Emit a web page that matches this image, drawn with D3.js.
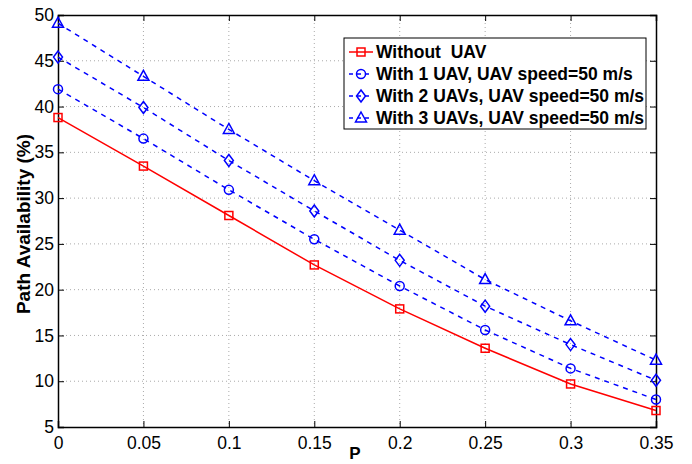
<!DOCTYPE html>
<html lang="en">
<head>
    <meta charset="utf-8">
    <title>Path Availability</title>
    <script src="https://d3js.org/d3.v7.min.js"></script>
    <style>
        body { margin: 0; background: #fff; }
        text { font-family: "Liberation Sans", Arial, sans-serif; }
    </style>
</head>
<body>
<div id="chart"></div>
<script>
    // Data
    const pValues = [0, 0.05, 0.1, 0.15, 0.2, 0.25, 0.3, 0.35];
    const withoutUav = [38.8, 33.5, 28.1, 22.7, 17.9, 13.6, 9.7, 6.8];
    const oneUav = [41.9, 36.5, 30.9, 25.5, 20.4, 15.6, 11.4, 8.0];
    const twoUavs = [45.4, 39.9, 34.1, 28.6, 23.2, 18.2, 14.0, 10.1];
    const threeUavs = [49.1, 43.3, 37.5, 31.9, 26.5, 21.1, 16.6, 12.3];
    const xTicks = [0, 0.05, 0.1, 0.15, 0.2, 0.25, 0.3, 0.35];
    const yTicks = [5, 10, 15, 20, 25, 30, 35, 40, 45, 50];
    const seriesNames = ["Without  UAV", "With 1 UAV, UAV speed=50 m/s",
        "With 2 UAVs, UAV speed=50 m/s", "With 3 UAVs, UAV speed=50 m/s"];

    const series = [
        {name: seriesNames[0], values: withoutUav, color: "#ff0000", dash: null, marker: "square"},
        {name: seriesNames[1], values: oneUav, color: "#0000ff", dash: "5,5", marker: "circle"},
        {name: seriesNames[2], values: twoUavs, color: "#0000ff", dash: "5,5", marker: "diamond"},
        {name: seriesNames[3], values: threeUavs, color: "#0000ff", dash: "5,5", marker: "triangle"}
    ];

    const W = 692, H = 464;
    const margin = {top: 15, right: 36, bottom: 37, left: 58},
        width = W - margin.left - margin.right,
        height = H - margin.top - margin.bottom;

    const svg = d3.select("#chart").append("svg")
        .attr("width", W).attr("height", H);
    const g = svg.append("g")
        .attr("transform", `translate(${margin.left},${margin.top})`);

    const x = d3.scaleLinear().domain([0, 0.35]).range([0, width]);
    const y = d3.scaleLinear().domain([5, 50]).range([height, 0]);

    // grid
    g.append("g").selectAll("line").data(xTicks.slice(1, -1)).join("line")
        .attr("x1", d => x(d)).attr("x2", d => x(d))
        .attr("y1", 0).attr("y2", height)
        .attr("stroke", "#aaa").attr("stroke-width", 1).attr("stroke-dasharray", "1,3");
    g.append("g").selectAll("line").data(yTicks.slice(1, -1)).join("line")
        .attr("y1", d => y(d)).attr("y2", d => y(d))
        .attr("x1", 0).attr("x2", width)
        .attr("stroke", "#aaa").attr("stroke-width", 1).attr("stroke-dasharray", "1,3");

    // axes with inner ticks
    const xAxis = g.append("g").attr("transform", `translate(0,${height})`)
        .call(d3.axisBottom(x).tickValues(xTicks).tickSize(-6).tickPadding(10)
            .tickFormat(d => String(+d.toFixed(2))));
    const yAxis = g.append("g")
        .call(d3.axisLeft(y).tickValues(yTicks).tickSize(-6).tickPadding(4));
    g.append("g").attr("transform", `translate(0,0)`)
        .call(d3.axisTop(x).tickValues(xTicks).tickSize(-6).tickFormat(""));
    g.append("g").attr("transform", `translate(${width},0)`)
        .call(d3.axisRight(y).tickValues(yTicks).tickSize(-6).tickFormat(""));
    g.selectAll(".domain").attr("stroke", "#000").attr("stroke-width", 1.5);
    g.selectAll(".tick line").attr("stroke", "#000");
    [xAxis, yAxis].forEach(a => a.selectAll("text")
        .attr("font-size", 17.5).attr("fill", "#000")
        .style("font-family", "'Liberation Sans', Arial, sans-serif"));

    // axis labels
    svg.append("text").attr("x", 355).attr("y", 459)
        .attr("text-anchor", "middle").attr("font-size", 17).attr("font-weight", "bold").text("P");
    svg.append("text")
        .attr("transform", `translate(30,${margin.top + height / 2 + 3}) rotate(-90)`)
        .attr("text-anchor", "middle").attr("font-size", 19).attr("font-weight", "bold")
        .text("Path Availability (%)");

    function drawMarker(sel, type, color) {
        if (type === "square") {
            sel.append("rect").attr("x", -4).attr("y", -4).attr("width", 8).attr("height", 8);
        } else if (type === "circle") {
            sel.append("circle").attr("r", 4.5);
        } else if (type === "diamond") {
            sel.append("path").attr("d", "M0,-6L4.5,0L0,6L-4.5,0Z");
        } else {
            sel.append("path").attr("d", "M0,-6L5.5,4L-5.5,4Z");
        }
        sel.selectAll("*").attr("fill", "none").attr("stroke", color).attr("stroke-width", 1.5);
    }

    const line = d3.line().x((d, i) => x(pValues[i])).y(d => y(d));
    series.forEach(s => {
        g.append("path").datum(s.values).attr("d", line)
            .attr("fill", "none").attr("stroke", s.color).attr("stroke-width", 1.5)
            .attr("stroke-dasharray", s.dash);
        g.append("g").selectAll("g").data(s.values).join("g")
            .attr("transform", (d, i) => `translate(${x(pValues[i])},${y(d)})`)
            .each(function () { drawMarker(d3.select(this), s.marker, s.color); });
    });

    // legend
    const lg = svg.append("g").attr("transform", "translate(344,38)");
    lg.append("rect").attr("width", 302).attr("height", 91)
        .attr("fill", "#fff").attr("stroke", "#000").attr("stroke-width", 1);
    series.forEach((s, i) => {
        const row = lg.append("g").attr("transform", `translate(0,${14 + i * 22})`);
        row.append("line").attr("x1", 5).attr("x2", 29).attr("y1", 0).attr("y2", 0)
            .attr("stroke", s.color).attr("stroke-width", 1.5).attr("stroke-dasharray", s.dash ? "4,4" : null);
        drawMarker(row.append("g").attr("transform", "translate(17,0)"), s.marker, s.color);
        row.append("text").attr("x", 32).attr("y", 6).attr("font-size", 17.5)
            .attr("font-weight", "bold").style("white-space", "pre").text(s.name);
    });
</script>
</body>
</html>
